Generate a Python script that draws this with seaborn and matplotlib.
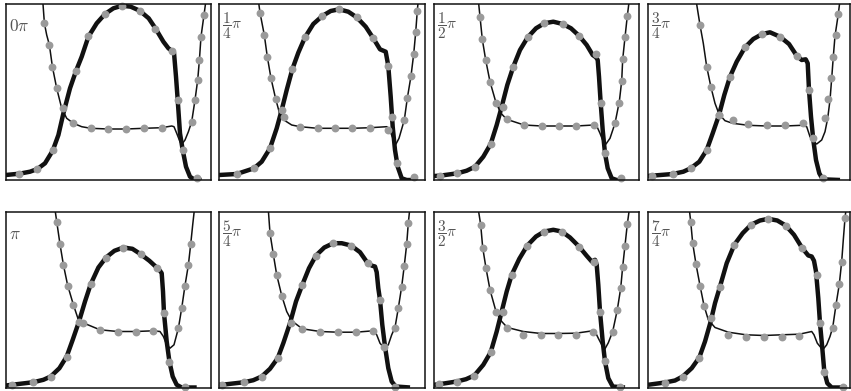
import numpy as np
import pandas as pd
import matplotlib
matplotlib.use("Agg")
import matplotlib.pyplot as plt
import seaborn as sns

# ---------------- data (units = panel pixels) ----------------
labels = [r"$0\pi$", r"$\dfrac{1}{4}\pi$", r"$\dfrac{1}{2}\pi$", r"$\dfrac{3}{4}\pi$",
          r"$\pi$", r"$\dfrac{5}{4}\pi$", r"$\dfrac{3}{2}\pi$", r"$\dfrac{7}{4}\pi$"]

# panel 0pi
thick_0 = [(0,5),(13.7,6.3),(24.3,8.3),(31.7,11),(39.3,16.7),(47,29.3),(52.7,45),(57.7,66.7),
           (64.3,91.7),(70.3,109),(76,123.3),(82.7,143.3),(91,156.7),(99.3,166),(107.7,171.7),
           (116.3,174.3),(125,173.3),(134,169.3),(143,161.7),(149.7,151.7),(157.7,138.3),
           (162.7,131.7),(166,129.3),(168.3,127.3),(170.3,103.3),(172,80),(174.3,46.7),(177,30),
           (180.3,13.3),(184.3,3.3),(189.3,0),(196,0)]
thin_0 = [(37,180),(38.7,156.7),(41,145),(43.7,135),(46.7,113.3),(51,91.7),(56,71.7),(61,61.7),
          (67.7,56.7),(76,53.3),(85,51.7),(102.7,51),(120.3,51),(138.3,51.7),(156,52.3),(166,54),
          (168.3,53.3),(171,46.7),(174.3,38.3),(176.3,36),(179.3,40),(182.7,48.3),(186,58.3),
          (189.3,80),(192,100),(193.7,120),(195.3,143.3),(198.3,165),(200.3,180)]
dots_0 = [(13.7,6),(31.7,10.7),(47,30),(57.7,71.7),(70.3,109),(82.7,144),(99.3,166),(116.3,174.3),
          (134,169.3),(149.7,150.7),(166,129.3),(172.7,80),(177,30),(191,1.7),
          (38.7,156.7),(43.7,135),(46.7,113.3),(51,91.7),(67.7,56.7),(85,51.7),(102.7,51),
          (120.3,51),(138.3,51.7),(156,52.3),(186,58.3),(189.3,80),(192,100),(193.7,120),
          (195.3,143.3),(198.3,165)]

# panel 1/4 pi
thick_1 = [(0,5),(17.7,6),(35,11.7),(42.7,18.3),(51,31.7),(57.7,51.7),(62.7,70),(67.7,90),
           (73.3,110.7),(79.3,127.3),(86,142.7),(94.3,156),(103.3,164),(111.7,169),(120,170.7),
           (129.3,168.3),(137.7,162.7),(146.7,153.3),(154.3,141.7),(161,130.7),(166.7,128.3),
           (169.3,114),(171.7,83.3),(173.7,53.3),(176,30),(178.7,13.3),(182.7,1.7),(187.7,0),(196,0)]
thin_1 = [(39.3,180),(41,167.3),(45.3,145),(48.3,123.3),(52,101.7),(56.7,81),(61,65),(66,59.3),
          (72.7,55),(81,53.3),(98.7,51.7),(116,51.7),(133.3,51.7),(151.3,52.3),(167.7,53.3),
          (170,51.7),(173.3,43.3),(177,36),(180,41.7),(185.3,60),(188.3,81.7),(192,104),
          (194.7,126),(196.7,147.7),(198.3,169.3),(199.3,180)]
dots_1 = [(17.7,6),(35,11.7),(51,31.7),(62.7,70),(73.3,110.7),(86,142.7),(103.3,164),(120,170.7),
          (137.7,162.7),(154.3,141.7),(169.3,114),(172.7,63.3),(177.7,16.7),(195.3,2.7),
          (41,167.3),(45.3,145),(48.3,123.3),(52,101.7),(56.7,81),(65.3,62.7),(81,53.3),
          (98.7,51.7),(116,51.7),(133.3,51.7),(151.3,52.3),(169.3,50),(185.3,60),(188.3,81.7),
          (192,104),(194.7,126),(196.7,147.7),(198.3,169.3)]

# panel 1/2 pi
thick_2 = [(0,4),(6,4.3),(23.3,6.7),(32.7,9.3),(41,13.3),(49.3,23.3),(56.7,36),(62.7,55),
           (67.7,73.3),(73.3,95),(79.3,113.3),(86,130),(93.7,142.7),(102,151.7),(110.3,156.7),
           (119.3,158.3),(128.7,156),(137,151.7),(145,144.3),(152.7,135),(158.7,125),(162,122.7),
           (163.7,120),(165,103.3),(166.7,76.7),(168.7,50),(171,26.7),(173.7,11.7),(177.7,1.7),
           (182.7,0),(189.3,0)]
thin_2 = [(44.3,180),(46,163.3),(48.3,140.7),(51.7,120),(56,98.3),(62,77.3),(67,66.7),(72.7,60.7),
          (90,55),(107.7,54),(125,54),(142,54),(160,55),(162.7,54),(166,46.7),(169.3,38.3),
          (172,36),(176,41.7),(181,56.7),(185.3,78.3),(187.7,99),(188.7,120.7),(191,142.7),
          (193.3,164),(195.3,180)]
dots_2 = [(6,4.3),(23.3,6.7),(41,13.3),(56.7,36),(68.7,73.3),(79.3,113.3),(93.7,142.7),
          (110.3,156.7),(128.7,156),(145,144.3),(162,126),(166.7,76.7),(171,26.7),(186.7,1.7),
          (46,163.3),(48.3,140.7),(51.7,120),(56,98.3),(62,77.3),(72.7,60.7),(90,55),(107.7,54),
          (125,54),(142,54),(160,55),(181,56.7),(185.3,76.7),(187.7,99),(188.7,120.7),
          (191,142.7),(193.3,164)]

# panel 3/4 pi
thick_3 = [(0,4),(3.7,4.3),(24.7,6),(35.3,8.3),(42.7,11.7),(51.3,18.3),(58.7,30),(64.7,46.7),
           (71,65),(76.3,85),(82,103.3),(88.7,118.3),(97,132.7),(105.3,141),(114.3,146),(122,147.7),
           (132,143.3),(141,136),(148.7,124.3),(153.7,120),(157.7,120.7),(159.7,116.7),(161,90),
           (163,63.3),(165.3,40),(168,20),(171.3,6.7),(174.7,0.7),(192,0)]
thin_3 = [(48,180),(52,155),(55.3,136.7),(58.7,113.3),(63,92.7),(67,76.7),(71,66),(77,59.3),
          (84.7,56.7),(100.3,54.7),(118.7,54),(137,54),(153.7,54.7),(158.7,53.3),(162,43.3),
          (165.3,38.3),(168.7,36),(173.7,40),(177,48.3),(179.7,61.7),(182,80),(183.7,101.7),
          (185.3,123.3),(187,144),(190.3,166),(192,180)]
dots_3 = [(3.7,4.3),(24.7,6),(42.7,11.7),(58.7,30),(71,65),(82,103.3),(97,132.7),(114.3,146),
          (132,143.3),(148.7,124.3),(161,90),(165.3,41.7),(175.3,1.7),
          (52,155),(58.7,113.3),(63,92.7),(71,65),(84.7,60),(100.3,56),(118.7,55.3),(137,55.3),
          (154.7,57.3),(177,61.7),(180.3,80.7),(182.7,101.7),(184.7,123.3),(188,145),(190.3,166)]

# panel pi
thick_4 = [(0,2),(6,2.7),(27.7,5.3),(37.7,7.7),(45,11),(53.7,19.3),(61,31),(67,47.7),(73.3,66),
           (79.3,86),(85,103.3),(92.7,120),(100.3,130),(108.7,136.7),(117.7,140),(126.7,138.7),
           (135,133.3),(143.7,126.7),(151,120),(154.3,116.7),(156,114.3),(157.3,96),(158.3,74.3),
           (161,46),(163.7,26),(167,11),(171,2.7),(176,0),(191,0)]
thin_4 = [(49.3,178),(51,166),(54.3,143.3),(57.7,122.7),(62,102),(67.7,82.7),(72.7,67.7),
          (78.3,64.3),(94.3,57.7),(112,56),(130,56),(147.7,56.7),(154.3,56),(157.7,51),(161,42.7),
          (164.3,39.3),(168.3,42.7),(172.7,59.3),(176,79.3),(179.3,102),(182.7,122.7),(185,143.3),
          (187,162.7),(188.7,178)]
dots_4 = [(6,2.7),(27.7,5.3),(45,11),(61,31),(73.3,66),(85,103.3),(100.3,130),(117.7,140),
          (135,133.3),(151,120),(158.3,74.3),(163.7,26),(179.3,1),
          (51,166),(54.3,143.3),(57.7,122.7),(62,102),(67.7,82.7),(77.7,64.3),(94.3,57.7),
          (112,56),(130,56),(147.7,56.7),(172.7,59.3),(176,79.3),(179.3,102),(182.7,122.7),
          (185,143.3)]

# panel 5/4 pi
thick_5 = [(0,2.7),(2.7,2.7),(25.3,5.3),(34.3,7.3),(42.7,11),(51,18.7),(58.7,29.3),(64.3,44.3),
           (71,64.3),(77,86),(83.3,102.7),(90,119.3),(97,132),(105.3,140),(114.3,144.3),
           (122.7,144.3),(132,142),(141,135.3),(148.7,124.3),(153.3,121.7),(156,121),(157.7,115.3),
           (159.3,99.3),(161,87.7),(163.3,62.7),(166,41),(169.3,19.3),(172.7,6),(176.7,1),(191,0)]
thin_5 = [(49.3,178),(51,154.3),(54.3,133.3),(57.7,112.7),(62.7,92),(67.7,76),(72.7,66.7),
          (83.3,58.7),(101,56),(118.7,55.3),(136.7,55.3),(154.3,56.7),(157.7,52.7),(161,44.3),
          (165.3,39.3),(169.3,42.7),(172.7,52.7),(176,60),(179.3,79.3),(182.7,101),(185.3,122),
          (187.7,143.3),(189.3,164.3),(190.7,178)]
dots_5 = [(2.7,2.7),(25.3,5.3),(42.7,11),(58.7,29.3),(72,65),(83.3,102.7),(97,132),(114.3,144.3),
          (132,142),(148.7,124.3),(161,87.7),(176,1),
          (51,154.3),(54.3,133.3),(57.7,112.7),(62.7,92),(83.3,58.7),(101,56),(118.7,55.3),
          (136.7,55.3),(154.3,56.7),(165.3,41),(176,60),(179.3,79.3),(182.7,101),(185.3,122),
          (187.7,143.3),(189.3,164.3)]

# panel 3/2 pi
thick_6 = [(0,2.7),(5.3,3.3),(22.7,6),(32,8.3),(40.3,12),(49.3,22.7),(56.7,35.3),(62.7,56),
           (67.7,76),(72.7,96),(77.7,112.7),(85.3,128.7),(93.3,142),(102,151),(110.3,156),
           (119.3,157.7),(127.7,156),(136,150),(145,141),(152.7,131.7),(157.7,126),(161,127.7),
           (162.7,122.7),(164.3,102.7),(166,76),(168.7,46),(171,26),(174.3,9.3),(178.7,1),(191,0)]
thin_6 = [(44.3,178),(46.7,162.7),(48.7,140),(52,119.3),(56,97.7),(62,76),(67.7,66),(73.3,60),
          (89.3,56),(107,54),(124.3,54),(142,54.3),(158.7,56.7),(161,56),(164.3,49.3),(167.7,42.7),
          (171,38.7),(174.3,44.7),(178.7,56),(183.3,77.7),(186.7,99.3),(188.7,121),(191,142),
          (193.3,163.3),(195.3,178)]
dots_6 = [(5.3,3.3),(22.7,6),(40.3,12),(56.7,35.3),(68.7,75.3),(77.7,112.7),(93.3,142),
          (110.3,156),(127.7,156),(145,141),(160,126),(166,76),(171,26.7),(186,1),
          (46.7,162.7),(48.7,140),(52,119.3),(56,97.7),(62,76),(72.7,59.3),(89.3,52.7),(107,52.7),
          (124.3,52.7),(142,52.7),(158.7,56),(178.7,56),(183.3,77.7),(186.7,99.3),(188.7,121),
          (191,142),(193.3,163.3)]

# panel 7/4 pi
thick_7 = [(0,2.7),(17,5),(27,7),(34.7,11),(43.7,19.3),(51.3,30),(57,46),(62.7,66),(67,84.3),
           (72,101),(78.7,124.3),(86.3,142.7),(94.7,154.3),(103,162.7),(112,167),(120.3,168.7),
           (129.3,167),(137.7,162),(146,152.7),(154.3,139.3),(160.3,132),(163.7,131),(166,126.7),
           (168,116),(170.3,89.3),(172,64.3),(174.3,39.3),(176.3,16),(179.3,4.3),(183.7,0),(198.7,0)]
thin_7 = [(41.3,178),(42.7,166),(44.7,144.3),(48,123.3),(52,102),(56,82),(60.3,67.7),(67,60),
          (80.3,55.3),(98,52.7),(116,52),(133.7,52.7),(151.3,53.3),(163.7,56),(166,52.7),
          (169.3,44.3),(174.7,37.7),(178.7,42.7),(182,51),(184.7,60),(188,82.7),(191.3,103.3),
          (193.7,126),(195.3,147.7),(197,169.3),(198,178)]
dots_7 = [(17,5),(34.7,11),(51.3,30),(62.7,69.3),(72,101),(86.3,142.7),(103,162.7),(120.3,168.7),
          (137.7,162),(154.3,139.3),(169.3,112.7),(172,64.3),(176.3,16),(195.3,1),
          (42.7,166),(44.7,144.3),(48,123.3),(52,102),(56,82),(80.3,52.7),(98,51),(116,51),
          (133.7,51),(151.3,52),(184.7,60),(188,82.7),(191.3,103.3),(193.7,126),(197,169.3)]

thick_curves = [thick_0, thick_1, thick_2, thick_3, thick_4, thick_5, thick_6, thick_7]
thin_curves = [thin_0, thin_1, thin_2, thin_3, thin_4, thin_5, thin_6, thin_7]
dot_sets = [dots_0, dots_1, dots_2, dots_3, dots_4, dots_5, dots_6, dots_7]

# ---------------- layout ----------------
W, H = 851, 391
fig = plt.figure(figsize=(W / 100, H / 100), dpi=100)
sns.set_style("white")
plt.rcParams["mathtext.fontset"] = "cm"

lefts = [5.7, 219, 434, 648]
widths = [205.3, 206, 205, 202]
row_tops = [4, 212]
row_h = [176, 175.5]

for i in range(8):
    r, c = divmod(i, 4)
    l, w = lefts[c], widths[c]
    t, h = row_tops[r], row_h[r]
    ax = fig.add_axes([l / W, 1 - (t + h) / H, w / W, h / H])
    thick = pd.DataFrame(thick_curves[i], columns=["x", "y"])
    thin = pd.DataFrame(thin_curves[i], columns=["x", "y"])
    dots = pd.DataFrame(dot_sets[i], columns=["x", "y"])
    sns.lineplot(data=thin, x="x", y="y", sort=False, estimator=None, color="#111111",
                 lw=1.1, ax=ax)
    sns.lineplot(data=thick, x="x", y="y", sort=False, estimator=None, color="#111111",
                 lw=3.2, ax=ax, solid_capstyle="butt", solid_joinstyle="round")
    sns.scatterplot(data=dots, x="x", y="y", color="#9a9a9a", s=32, linewidth=0,
                    ax=ax, zorder=5, clip_on=False)
    ax.set_xlim(0, w)
    ax.set_ylim(0, h)
    ax.set_xticks([])
    ax.set_yticks([])
    ax.set_xlabel("")
    ax.set_ylabel("")
    for sp in ax.spines.values():
        sp.set_visible(True)
        sp.set_color("#111111")
        sp.set_linewidth(1.1)
        sp.set_zorder(10)
    is_frac = "frac" in labels[i]
    ax.text(3 / w, 1 - 22 / h, labels[i], transform=ax.transAxes, ha="left", va="center",
            fontsize=11 if is_frac else 12.5, color="#555555", zorder=11)

fig.savefig("out.png", dpi=100)
